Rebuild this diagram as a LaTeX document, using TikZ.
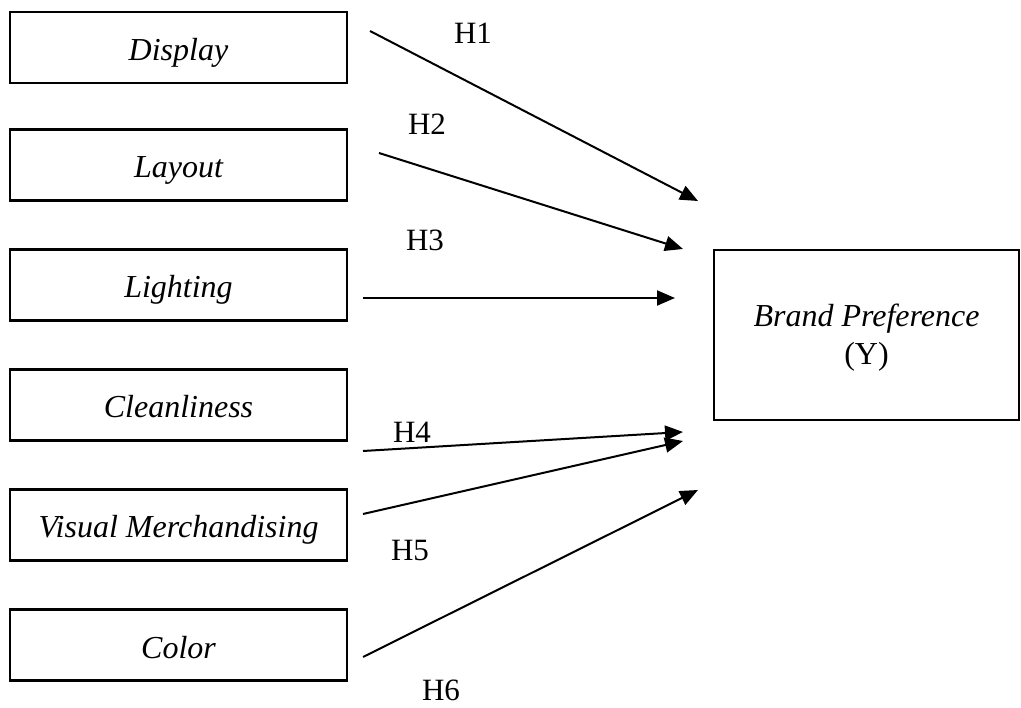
\documentclass[tikz,border=0pt]{standalone}
\usepackage{fontspec}
\setmainfont{Liberation Serif}
\usetikzlibrary{arrows.meta}
\begin{document}
\begin{tikzpicture}[x=1pt,y=-1pt,
  varbox/.style={draw,line width=2.6pt,minimum width=337pt,minimum height=71pt,inner sep=0pt,
    text height=26pt,text depth=0pt,font=\fontsize{32}{37}\selectfont\itshape},
  depbox/.style={draw,line width=2.6pt,minimum width=305pt,minimum height=170pt,inner sep=0pt,
    align=center,font=\fontsize{32}{38}\selectfont},
  link/.style={line width=2pt,-{Triangle[length=18pt,width=15pt]}},
  hlab/.style={inner sep=0pt,font=\fontsize{31}{36}\selectfont}]
\useasboundingbox (0,0) rectangle (1021,708);
% independent variables
\node[varbox] (display) at (178.5,47.5) {Display};
\node[varbox] (layout) at (178.5,165) {Layout};
\node[varbox] (lighting) at (178.5,285) {Lighting};
\node[varbox] (clean) at (178.5,405) {Cleanliness};
\node[varbox] (visual) at (178.5,525) {Visual Merchandising};
\node[varbox] (color) at (178.5,645) {Color};
% dependent variable
\node[depbox] (brand) at (866.5,335) {\rule{0pt}{28pt}\textit{Brand Preference}\\(Y)};
% connector ends
\coordinate (s1) at (370,31);  \coordinate (e1) at (698,201);
\coordinate (s2) at (379,153); \coordinate (e2) at (683,249);
\coordinate (s3) at (363,298); \coordinate (e3) at (675,298);
\coordinate (s4) at (363,451); \coordinate (e4) at (683,432);
\coordinate (s5) at (363,514); \coordinate (e5) at (683,441);
\coordinate (s6) at (363,657); \coordinate (e6) at (698,490);
\draw[link] (s1) -- (e1);
\draw[link] (s2) -- (e2);
\draw[link] (s3) -- (e3);
\draw[link] (s4) -- (e4);
\draw[link] (s5) -- (e5);
\draw[link] (s6) -- (e6);
% labels
\node[hlab] (h1) at (473,33) {H1};
\node[hlab] (h2) at (427,124) {H2};
\node[hlab] (h3) at (425,240) {H3};
\node[hlab] (h4) at (412,432) {H4};
\node[hlab] (h5) at (410,551) {H5};
\node[hlab] (h6) at (441,690) {H6};
\end{tikzpicture}
\end{document}
